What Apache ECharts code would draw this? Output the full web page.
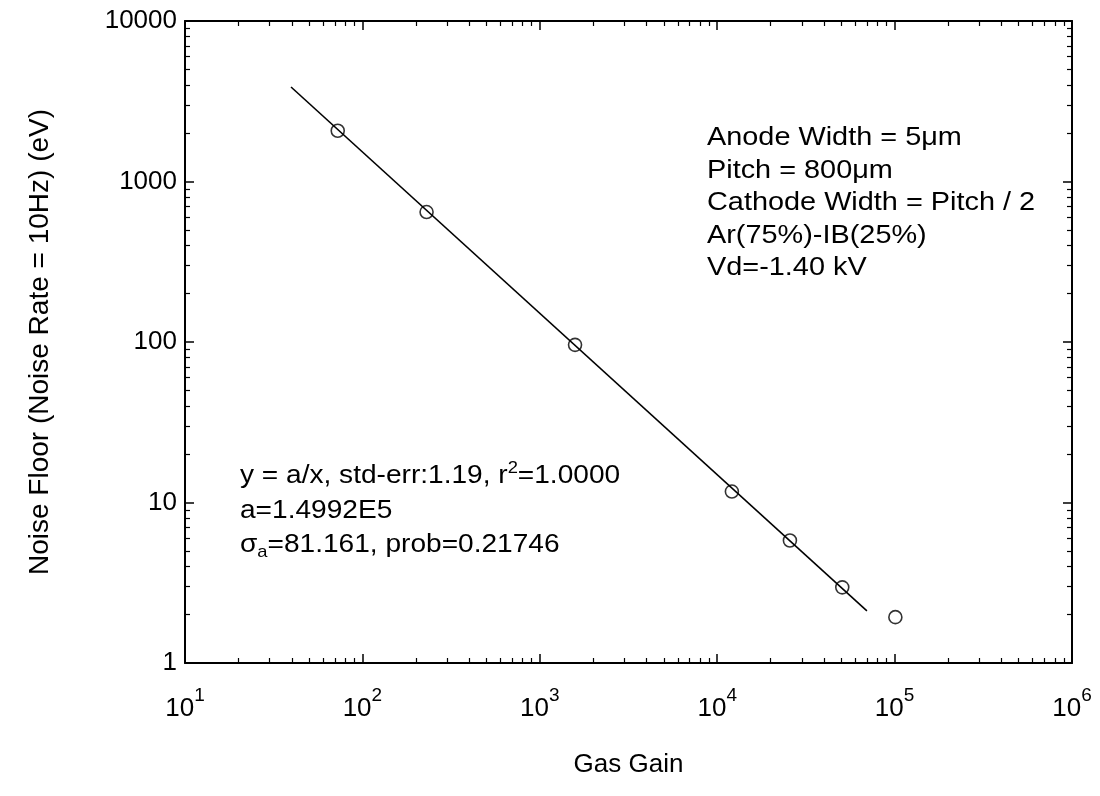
<!DOCTYPE html>
<html><head><meta charset="utf-8">
<script src="https://cdn.jsdelivr.net/npm/echarts@6/dist/echarts.min.js"></script>
<style>html,body{margin:0;padding:0;background:#fff}#c{width:1100px;height:796px}</style>
</head><body><div id="c"></div>
<script>
// ---- data ----
const gasGain    = [72.6, 230, 1580, 12100, 25700, 50700, 101000];
const noiseFloor = [2070, 645, 96, 11.7, 5.8, 2.96, 1.93];
// fitted line y = a/x, drawn between its visible end points
const fitGain  = [39.6, 69800];
const fitNoise = [3880, 2.11];
// tick labels / tick positions
const xMajorTicks = [10, 100, 1000, 10000, 100000, 1000000];
const yMajorTicks = [1, 10, 100, 1000, 10000];
const yTickLabels = ['1', '10', '100', '1000', '10000'];
const minorMultipliers = [2, 3, 4, 5, 6, 7, 8, 9];
const xMinorTicks = [];
xMajorTicks.slice(0, -1).forEach(d => minorMultipliers.forEach(m => xMinorTicks.push(d * m)));
const yMinorTicks = [];
yMajorTicks.slice(0, -1).forEach(d => minorMultipliers.forEach(m => yMinorTicks.push(d * m)));
// texts
const xTitle = 'Gas Gain';
const yTitle = 'Noise Floor (Noise Rate = 10Hz) (eV)';
const infoLines = ['Anode Width = 5\u03bcm', 'Pitch = 800\u03bcm', 'Cathode Width = Pitch / 2', 'Ar(75%)-IB(25%)', 'Vd=-1.40 kV'];
const fitLines = [
  '{t|y = a/x, std-err:1.19, r}{sup|2}{t|=1.0000}',
  '{t|a=1.4992E5}',
  '{t|\u03c3}{sub|a}{t|=81.161, prob=0.21746}'
];

// ---- chart ----
const FONT = '"Liberation Sans", Arial, Helvetica, sans-serif';
const chart = echarts.init(document.getElementById('c'), null, {renderer: 'canvas'});

function logAxis(extra) {
  return Object.assign({
    type: 'log', logBase: 10, gridIndex: 0,
    splitLine: {show: false},
    axisLine: {show: true, onZero: false, lineStyle: {color: '#000', width: 2}},
    axisTick: {show: true, inside: true, length: 9, lineStyle: {color: '#000', width: 1.5}},
    axisLabel: {show: false}
  }, extra);
}
function minorAxis(pos, ticks, extra) {
  return Object.assign(logAxis({position: pos}), {
    axisLine: {show: false},
    axisTick: {show: true, inside: true, length: 5, customValues: ticks, lineStyle: {color: '#000', width: 1.2}},
    axisLabel: {show: false}
  }, extra);
}

const xRange = {min: 10, max: 1000000};
const yRange = {min: 1, max: 10000};

chart.setOption({
  animation: false,
  backgroundColor: '#fff',
  grid: {left: 185, right: 28, top: 21, bottom: 133, containLabel: false},
  xAxis: [
    logAxis(Object.assign({
      position: 'bottom',
      axisTick: {show: true, inside: true, length: 9, customValues: xMajorTicks, lineStyle: {color: '#000', width: 1.5}},
      axisLabel: {
        show: true, customValues: xMajorTicks, margin: 23, color: '#000',
        formatter: v => '{b|10}{s|' + Math.round(Math.log10(v)) + '}',
        rich: {
          b: {fontSize: 26, lineHeight: 46, color: '#000', fontFamily: FONT},
          s: {fontSize: 19, verticalAlign: 'top', color: '#000', fontFamily: FONT}
        }
      },
      name: xTitle, nameLocation: 'middle', nameGap: 89,
      nameTextStyle: {fontSize: 26, color: '#000', fontFamily: FONT}
    }, xRange)),
    logAxis(Object.assign({position: 'top',
      axisTick: {show: true, inside: true, length: 9, customValues: xMajorTicks, lineStyle: {color: '#000', width: 1.5}}}, xRange)),
    minorAxis('bottom', xMinorTicks, xRange),
    minorAxis('top', xMinorTicks, xRange)
  ],
  yAxis: [
    logAxis(Object.assign({
      position: 'left',
      axisTick: {show: true, inside: true, length: 9, customValues: yMajorTicks, lineStyle: {color: '#000', width: 1.5}},
      axisLabel: {
        show: true, customValues: yMajorTicks, margin: 8, color: '#000', fontSize: 26, fontFamily: FONT,
        formatter: v => yTickLabels[yMajorTicks.indexOf(v)] !== undefined ? yTickLabels[yMajorTicks.indexOf(v)] : String(v)
      },
      name: yTitle, nameLocation: 'middle', nameRotate: 90, nameGap: 131,
      nameTextStyle: {fontSize: 28, color: '#000', fontFamily: FONT}
    }, yRange)),
    logAxis(Object.assign({position: 'right',
      axisTick: {show: true, inside: true, length: 9, customValues: yMajorTicks, lineStyle: {color: '#000', width: 1.5}}}, yRange)),
    minorAxis('left', yMinorTicks, yRange),
    minorAxis('right', yMinorTicks, yRange)
  ],
  series: [
    {
      type: 'line', xAxisIndex: 0, yAxisIndex: 0,
      data: fitGain.map((g, i) => [g, fitNoise[i]]),
      showSymbol: false, symbol: 'none',
      lineStyle: {color: '#000', width: 1.6}, silent: true, z: 2
    },
    {
      type: 'scatter', xAxisIndex: 0, yAxisIndex: 0,
      data: gasGain.map((g, i) => [g, noiseFloor[i]]),
      symbol: 'circle', symbolSize: 13,
      itemStyle: {color: 'rgba(255,255,255,0)', borderColor: '#000', borderWidth: 1.6}, z: 3
    }
  ],
  graphic: [
    ...infoLines.map((t, i) => ({
      type: 'text', x: 707, y: 138 + i * 32.5, scaleX: 1.11, silent: true,
      style: {text: t, fill: '#000', font: '26px ' + FONT, verticalAlign: 'middle', align: 'left'}
    })),
    ...fitLines.map((t, i) => ({
      type: 'text', x: 240, y: 476 + i * 34.5, scaleX: 1.08, silent: true,
      style: {
        text: t, verticalAlign: 'middle', align: 'left', fill: '#000',
        rich: {
          t: {fontSize: 26, lineHeight: 32, fill: '#000', fontFamily: FONT},
          sup: {fontSize: 17, verticalAlign: 'top', fill: '#000', fontFamily: FONT},
          sub: {fontSize: 17, verticalAlign: 'bottom', fill: '#000', fontFamily: FONT}
        }
      }
    }))
  ]
});
</script>
</body></html>
